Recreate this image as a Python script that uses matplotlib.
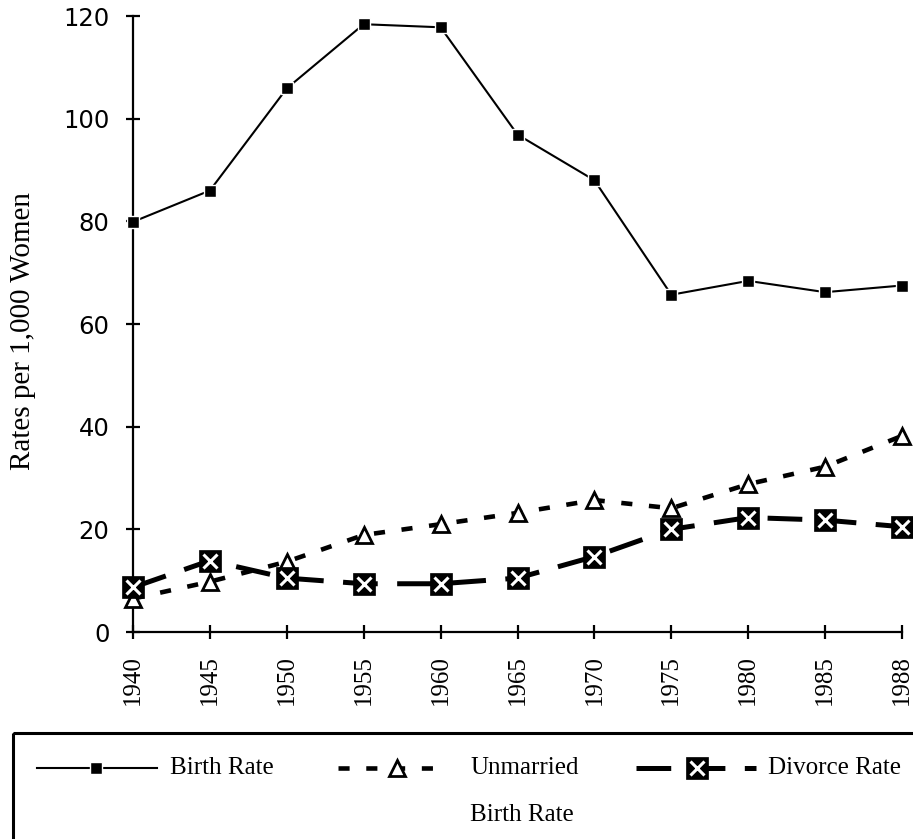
import matplotlib
matplotlib.use('Agg')
import matplotlib.pyplot as plt
from matplotlib.patches import Rectangle

plt.rcParams['lines.scale_dashes'] = False

years = ['1940', '1945', '1950', '1955', '1960', '1965',
         '1970', '1975', '1980', '1985', '1988']
birth_rate = [79.9, 86.0, 105.9, 118.4, 117.8, 96.9,
              88.0, 65.7, 68.4, 66.2, 67.5]
unmarried_rate = [6.5, 9.8, 13.7, 18.9, 21.0, 23.2,
                  25.7, 24.1, 28.8, 32.2, 38.2]
divorce_rate = [8.7, 13.9, 10.5, 9.4, 9.4, 10.5,
                14.7, 20.0, 22.3, 21.8, 20.5]

SERIF = 'Liberation Serif'

birth_style = dict(color='black', lw=1.5, marker='s', ms=8,
                   mfc='black', mec='white', mew=1)
unmarried_style = dict(color='black', lw=3.3, dashes=(8, 12), marker='^',
                       ms=12, mfc='white', mec='black', mew=2)
divorce_style = dict(color='black', lw=3.6, dashes=(25, 14),
                     marker='s', ms=16.5, mfc='black', mec='black', mew=0.5)
cross_style = dict(ls='none', marker='x', ms=9.5, mew=2.2, color='white')

fig = plt.figure(figsize=(9.13, 8.39), dpi=100)
ax = fig.add_axes([133 / 913, 1 - 632 / 839, (902 - 133) / 913, (632 - 16) / 839])

x = list(range(len(years)))
ax.plot(x, birth_rate, clip_on=False, zorder=3, **birth_style)
ax.plot(x, unmarried_rate, clip_on=False, zorder=3, **unmarried_style)
ax.plot(x, divorce_rate, clip_on=False, zorder=4, **divorce_style)
ax.plot(x, divorce_rate, clip_on=False, zorder=5, **cross_style)

ax.set_xlim(0, len(years) - 1)
ax.set_ylim(0, 120)
ax.set_yticks(range(0, 121, 20))
ax.set_xticks(x)
ax.set_xticklabels(years, rotation=90, fontsize=18, family=SERIF)
for lbl in ax.get_yticklabels():
    lbl.set_fontsize(17.5)
    lbl.set_family('DejaVu Sans')

for side in ['top', 'right']:
    ax.spines[side].set_visible(False)
for side in ['left', 'bottom']:
    ax.spines[side].set_linewidth(1.6)
ax.tick_params(axis='both', direction='inout', length=10, width=1.6)
ax.tick_params(axis='y', pad=12)
ax.tick_params(axis='x', pad=12)

fig.text(23 / 913, 1 - 331 / 839, 'Rates per 1,000 Women', rotation=90,
         ha='center', va='center', fontsize=21, family=SERIF)

# legend drawn in pixel coordinates of the figure
leg = fig.add_axes([0, 0, 1, 1])
leg.set_xlim(0, 913)
leg.set_ylim(839, 0)
leg.axis('off')
leg.add_patch(Rectangle((13, 733), 1000, 200, fill=False, lw=2.2,
                        edgecolor='black', clip_on=False))

row1 = 768
leg.plot([37, 96, 157], [row1] * 3, markevery=[1], **birth_style)
leg.text(170, row1, 'Birth Rate', va='center', fontsize=18, family=SERIF)

leg.plot([338, 397, 440], [row1] * 3, markevery=[1], **unmarried_style)
leg.text(470, row1, 'Unmarried', va='center', fontsize=18, family=SERIF)
leg.text(470, 815, 'Birth Rate', va='center', fontsize=18, family=SERIF)

leg.plot([636, 697, 756], [row1] * 3, markevery=[1], **divorce_style)
leg.plot([697], [row1], **cross_style)
leg.text(768, row1, 'Divorce Rate', va='center', fontsize=18, family=SERIF)

fig.savefig('out.png', dpi=100)
